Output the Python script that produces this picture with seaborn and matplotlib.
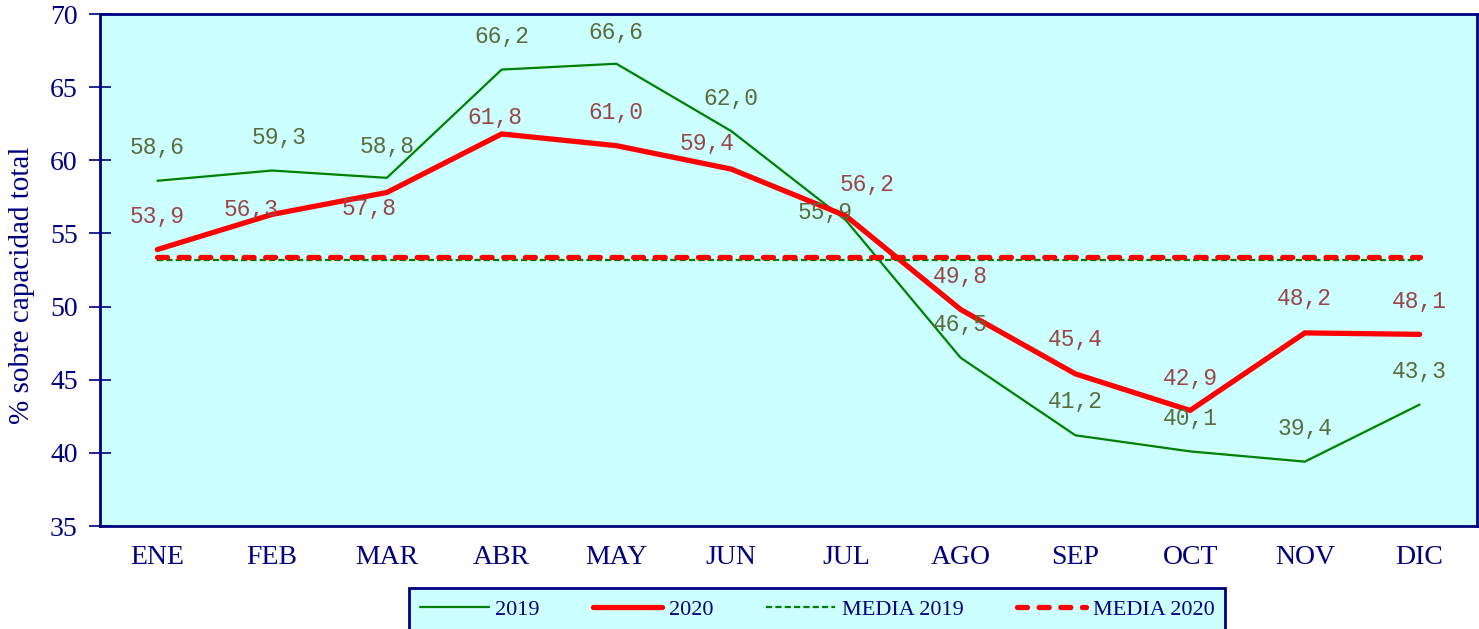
import numpy as np
import pandas as pd
import matplotlib
matplotlib.use("Agg")
import matplotlib.pyplot as plt
import seaborn as sns

# Data
meses = ['ENE', 'FEB', 'MAR', 'ABR', 'MAY', 'JUN', 'JUL', 'AGO', 'SEP', 'OCT', 'NOV', 'DIC']
val_2019 = [58.6, 59.3, 58.8, 66.2, 66.6, 62.0, 55.9, 46.5, 41.2, 40.1, 39.4, 43.3]
val_2020 = [53.9, 56.3, 57.8, 61.8, 61.0, 59.4, 56.2, 49.8, 45.4, 42.9, 48.2, 48.1]
media_2019 = 53.2
media_2020 = 53.4

# label offsets in pixels (dx, dy) - hand tuned to match the original placement
off_2019 = [(0, 33), (7, 33), (0, 31), (0, 33), (0, 31), (0, 33),
            (-21, 8), (0, 33), (0, 34), (0, 33), (0, 33), (0, 33)]
off_2020 = [(0, 33), (-21, 5), (-18, -16), (-7, 16), (0, 33), (-24, 26),
            (21, 31), (0, 33), (0, 34), (0, 32), (0, 34), (0, 33)]

df = pd.DataFrame({'pos': np.arange(len(meses)), 'mes': meses,
                   '2019': val_2019, '2020': val_2020})
x_ends = df['pos'].iloc[[0, -1]]

NAVY = '#000080'
sns.set_style("white")
plt.rcParams['font.family'] = ['Liberation Serif', 'DejaVu Serif']

fig = plt.figure(figsize=(14.79, 6.29), dpi=100)
ax = fig.add_axes([100 / 1479, 1 - 526 / 629, 1377 / 1479, 512 / 629])
ax.set_facecolor('#CCFFFF')

sns.lineplot(data=df, x='pos', y='2019', color='#008000', lw=1.6, ax=ax, label='2019')
sns.lineplot(data=df, x='pos', y='2020', color='#FF0000', lw=3.8, ax=ax, label='2020',
             solid_capstyle='round')
ax.plot(x_ends, [media_2019] * 2, color='#008000', lw=1.6,
        linestyle=(0, (2.8, 1.4)), label='MEDIA 2019')
ax.plot(x_ends, [media_2020] * 2, color='#FF0000', lw=3.8,
        linestyle=(0, (1.9, 2.2)), dash_capstyle='round', label='MEDIA 2020')

# data labels
for vals, offs, col in [(val_2019, off_2019, '#5B6B3A'), (val_2020, off_2020, '#9B4545')]:
    for i, v in enumerate(vals):
        ax.annotate(f"{v:.1f}".replace('.', ','), (i, v), xytext=offs[i],
                    textcoords='offset pixels', ha='center', va='center',
                    fontsize=16.5, color=col, family=['Liberation Mono', 'DejaVu Sans Mono'])

ax.set_xlim(-0.5, len(meses) - 0.5)
ax.set_ylim(35, 70)
ax.set_yticks(range(35, 71, 5))
ax.set_xticks(np.arange(-0.5, len(meses), 1))
ax.set_xticklabels([])
ax.set_xticks(df['pos'], minor=True)
ax.set_xticklabels(meses, minor=True)
ax.tick_params(axis='x', which='major', direction='inout', length=16, width=1.2, color=NAVY)
ax.tick_params(axis='x', which='minor', length=0, pad=14, labelsize=20, labelcolor=NAVY)
ax.tick_params(axis='y', direction='inout', length=16, width=1.2, color=NAVY,
               labelsize=20, labelcolor=NAVY, pad=8, left=True)
for s in ax.spines.values():
    s.set_color(NAVY)
    s.set_linewidth(2)

ax.set_xlabel('')
ax.set_ylabel('% sobre capacidad total', fontsize=21, color=NAVY)
ax.yaxis.set_label_coords(-0.047, 0.47)

handles, labels = ax.get_legend_handles_labels()
ax.legend_.remove()
leg = fig.legend(handles, labels, loc='upper center', bbox_to_anchor=(817 / 1479, 1 - 588 / 629),
                 ncol=4, fontsize=16, frameon=True, fancybox=False, framealpha=1,
                 facecolor='#CCFFFF', edgecolor=NAVY, handlelength=3.1, handletextpad=0.3,
                 columnspacing=2.4, borderpad=0.5, borderaxespad=0)
leg.get_frame().set_linewidth(2)
for t in leg.get_texts():
    t.set_color(NAVY)

fig.savefig('out.png', dpi=100)
